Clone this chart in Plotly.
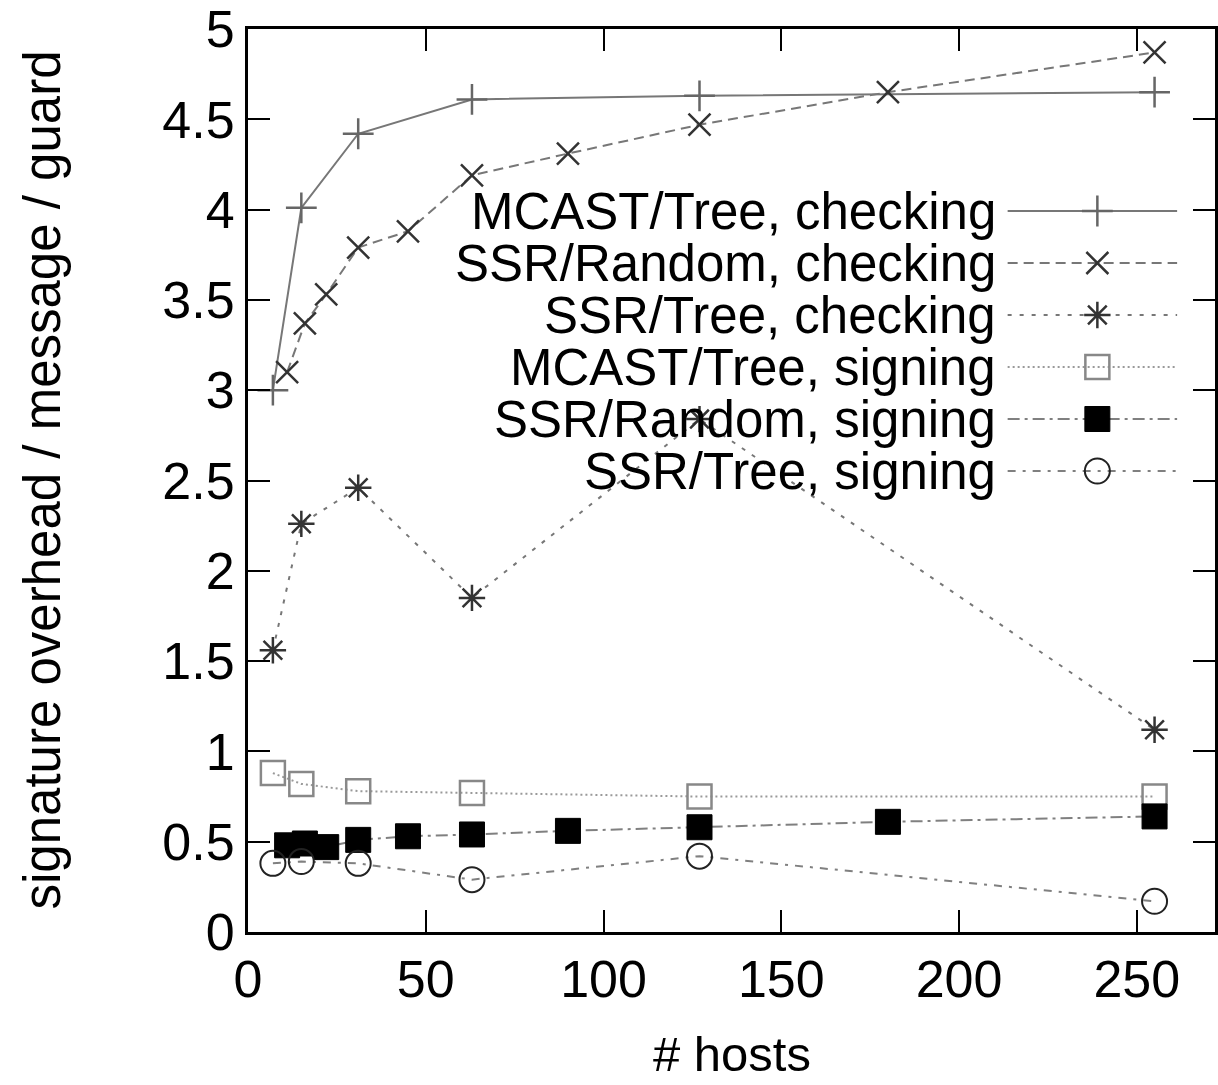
import plotly.graph_objects as go

# ---------------- data ----------------
hosts_tree = [7, 15, 31, 63, 127, 255]
hosts_random = [11, 16, 22, 31, 45, 63, 90, 127, 180, 255]

mcast_tree_checking = [3.00, 4.01, 4.42, 4.61, 4.63, 4.65]
ssr_random_checking = [3.10, 3.37, 3.53, 3.79, 3.88, 4.19, 4.31, 4.47, 4.65, 4.87]
ssr_tree_checking = [1.56, 2.26, 2.46, 1.85, 2.84, 1.12]
mcast_tree_signing = [0.88, 0.82, 0.78, 0.77, 0.75, 0.75]
ssr_random_signing = [0.48, 0.49, 0.47, 0.51, 0.53, 0.54, 0.56, 0.58, 0.61, 0.64]
ssr_tree_signing = [0.38, 0.39, 0.38, 0.29, 0.42, 0.17]

series_names = [
    "MCAST/Tree, checking",
    "SSR/Random, checking",
    "SSR/Tree, checking",
    "MCAST/Tree, signing",
    "SSR/Random, signing",
    "SSR/Tree, signing",
]
x_tick_vals = [0, 50, 100, 150, 200, 250]
y_tick_vals = [0, 0.5, 1, 1.5, 2, 2.5, 3, 3.5, 4, 4.5, 5]
y_tick_text = ["0", "0.5", "1", "1.5", "2", "2.5", "3", "3.5", "4", "4.5", "5"]

# ---------------- styles ----------------
FONT = "Liberation Sans, Arial, Helvetica, sans-serif"
styles = [
    dict(line=dict(color="#777777", width=2, dash="solid"),
         marker=dict(symbol="cross-thin", size=22, line=dict(color="#666", width=2.5))),
    dict(line=dict(color="#777777", width=2, dash="10px,6px"),
         marker=dict(symbol="x-thin", size=22, line=dict(color="#333", width=2.5))),
    dict(line=dict(color="#777777", width=2, dash="4px,8px"),
         marker=dict(symbol="asterisk", size=22, line=dict(color="#333", width=2.5))),
    dict(line=dict(color="#999999", width=2, dash="2px,3px"),
         marker=dict(symbol="square-open", size=24, color="#888", line=dict(color="#888", width=2.5))),
    dict(line=dict(color="#808080", width=2, dash="12px,5px,3px,5px"),
         marker=dict(symbol="square", size=25, color="black", line=dict(color="black", width=1))),
    dict(line=dict(color="#808080", width=2, dash="8px,7px,3px,7px"),
         marker=dict(symbol="circle-open", size=25, color="#222", line=dict(color="#222", width=2))),
]
xs = [hosts_tree, hosts_random, hosts_tree, hosts_tree, hosts_random, hosts_tree]
ys = [mcast_tree_checking, ssr_random_checking, ssr_tree_checking,
      mcast_tree_signing, ssr_random_signing, ssr_tree_signing]

fig = go.Figure()
for name, x, y, st in zip(series_names, xs, ys, styles):
    fig.add_trace(go.Scatter(x=x, y=y, mode="lines+markers", name=name,
                             line=st["line"], marker=st["marker"],
                             showlegend=False, cliponaxis=False))

# ---------------- custom legend (text left, sample right) ----------------
W, H = 1218, 1085
L, R, T, B = 248, 0, 29, 153
leg_top = 211
leg_step = 52
leg_text_right = 1000
leg_line = (1010, 1180)
leg_marker_x = 1100

for i, (name, st) in enumerate(zip(series_names, styles)):
    yy = leg_top + i * leg_step
    fig.add_trace(go.Scatter(x=[leg_line[0], leg_line[1]], y=[yy, yy], mode="lines",
                             line=st["line"], xaxis="x2", yaxis="y2",
                             showlegend=False, hoverinfo="skip", cliponaxis=False))
    fig.add_trace(go.Scatter(x=[leg_marker_x], y=[yy], mode="markers",
                             marker=st["marker"], xaxis="x2", yaxis="y2",
                             showlegend=False, hoverinfo="skip", cliponaxis=False))
    fig.add_annotation(x=leg_text_right, y=yy, xref="x2", yref="y2", text=name,
                       showarrow=False, xanchor="right", yanchor="middle",
                       font=dict(family=FONT, size=51, color="black"))

axis_common = dict(showline=True, linecolor="black", linewidth=3, mirror="ticks",
                   ticks="inside", ticklen=22, tickwidth=2, tickcolor="black",
                   showgrid=False, zeroline=False,
                   tickfont=dict(family=FONT, size=52, color="black"))

fig.update_layout(
    width=W, height=H,
    margin=dict(l=L, r=R, t=T, b=B),
    paper_bgcolor="white", plot_bgcolor="white",
    xaxis=dict(range=[0, 272], tickvals=x_tick_vals, **axis_common),
    yaxis=dict(range=[0, 5], tickvals=y_tick_vals, ticktext=y_tick_text, **axis_common),
    xaxis2=dict(range=[L, W - R], overlaying="x", visible=False, fixedrange=True),
    yaxis2=dict(range=[H - B, T], overlaying="y", visible=False, fixedrange=True),
    showlegend=False,
)

fig.add_annotation(text="# hosts", xref="paper", yref="paper", x=0.5, y=0,
                   yshift=-(1054 - (H - B)), showarrow=False, xanchor="center", yanchor="middle",
                   font=dict(family=FONT, size=49, color="black"))
fig.add_annotation(text="signature overhead / message / guard", xref="paper", yref="paper",
                   x=0, y=0.5, xshift=-(L - 42), showarrow=False, textangle=-90,
                   xanchor="center", yanchor="middle",
                   font=dict(family=FONT, size=51, color="black"))

fig.write_html("out.html")
